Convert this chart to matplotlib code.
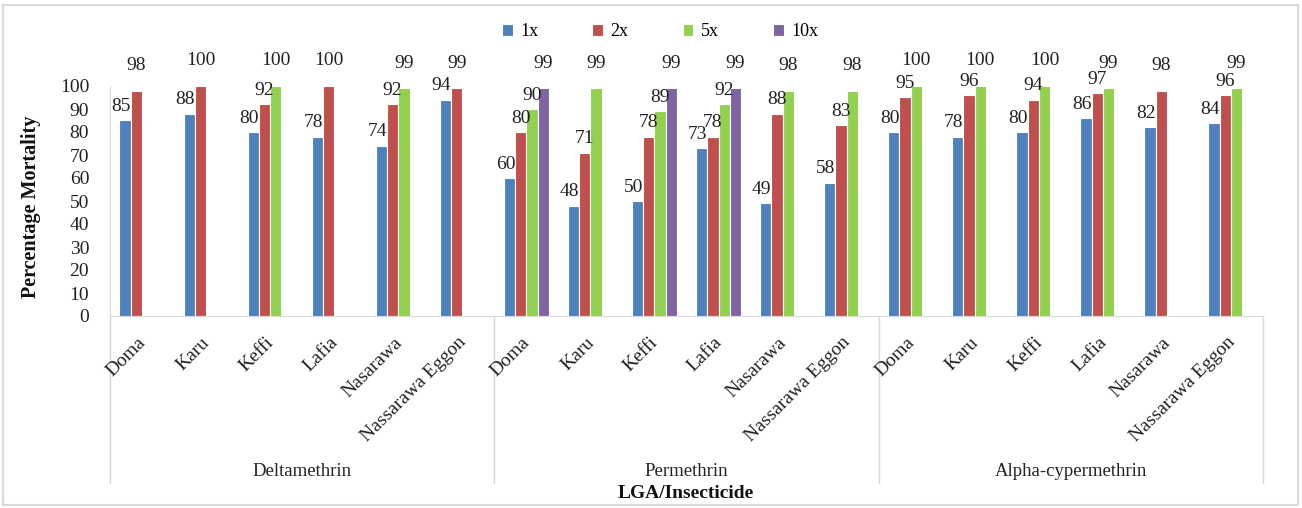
import matplotlib
matplotlib.use("Agg")
import matplotlib.pyplot as plt
from matplotlib.patches import Rectangle
from matplotlib.lines import Line2D
import numpy as np

plt.rcParams["font.family"] = ["Liberation Serif", "DejaVu Serif"]

nan = np.nan
insecticides = ["Deltamethrin", "Permethrin", "Alpha-cypermethrin"]
lgas = ["Doma", "Karu", "Keffi", "Lafia", "Nasarawa", "Nassarawa Eggon"]
series = ["1x", "2x", "5x", "10x"]
colors = ["#4F81BD", "#C0504D", "#92D050", "#8064A2"]

mort_1x = [85, 88, 80, 78, 74, 94, 60, 48, 50, 73, 49, 58, 80, 78, 80, 86, 82, 84]
mort_2x = [98, 100, 92, 100, 92, 99, 80, 71, 78, 78, 88, 83, 95, 96, 94, 97, 98, 96]
mort_5x = [nan, nan, 100, nan, 99, nan, 90, 99, 89, 92, 98, 98, 100, 100, 100, 99, nan, 99]
mort_10x = [nan, nan, nan, nan, nan, nan, 99, nan, 99, 99, nan, nan, nan, nan, nan, nan, nan, nan]
values = [mort_1x, mort_2x, mort_5x, mort_10x]

W, H = 1302, 508
fig = plt.figure(figsize=(W / 100, H / 100), dpi=100)
fig.patches.append(Rectangle((3 / W, 3 / H), 1295 / W, 500 / H, transform=fig.transFigure,
                             fill=False, edgecolor="#d9d9d9", linewidth=1.5))

x0, x1, ytop, ybot = 110, 1263, 86, 316
ax = fig.add_axes([x0 / W, 1 - ybot / H, (x1 - x0) / W, (ybot - ytop) / H])

n = len(mort_1x)
centers = np.arange(n) + 0.5
slot = 0.176
for k, (name, vals, c) in enumerate(zip(series, values, colors)):
    xs = centers + (k - 1.5) * slot
    v = np.array(vals, dtype=float)
    ax.bar(xs, v, width=slot, color=c, edgecolor="white", linewidth=0.8, label=name)
    # value labels: near-100 labels sit a little higher, 1x labels lean left
    dx = -0.06 if k == 0 else 0.0
    for xi, vi in zip(xs, v):
        if np.isnan(vi):
            continue
        off = 11 if vi >= 98 else 6
        ax.text(xi + dx, vi + off, f"{vi:.0f}", ha="center", va="center", fontsize=14,
                color="#222222", clip_on=False)

ax.set_xlim(0, n)
ax.set_ylim(0, 100)
ax.set_yticks(range(0, 101, 10))
ax.tick_params(axis="y", length=0, pad=15, labelsize=14, labelcolor="#222222")
ax.tick_params(axis="x", length=0)
ax.set_xticks([])
for s in ["top", "right"]:
    ax.spines[s].set_visible(False)
ax.spines["left"].set_color("#d9d9d9")
ax.spines["bottom"].set_color("#d9d9d9")

# category labels, rotated
to_fig = lambda px, py: (px / W, 1 - py / H)
for i, c in enumerate(centers):
    px = x0 + c * (x1 - x0) / n
    fx, fy = to_fig(px + 1, ybot + 24)
    fig.text(fx, fy, lgas[i % 6], rotation=45, ha="right", va="center",
             rotation_mode="anchor", fontsize=14, color="#222222")

# group separators and group names
for g in range(4):
    px = x0 + g * 6 * (x1 - x0) / n
    fig.add_artist(Line2D([px / W, px / W], [1 - ybot / H, 1 - 483 / H],
                          color="#d9d9d9", linewidth=1))
for g, name in enumerate(insecticides):
    px = x0 + (g * 6 + 3) * (x1 - x0) / n
    fx, fy = to_fig(px, 472)
    fig.text(fx, fy, name, ha="center", va="center", fontsize=13.5, color="#222222")

fig.text(*to_fig(686, 494), "LGA/Insecticide", ha="center", va="center",
         fontsize=14, fontweight="bold", color="#111111")
fig.text(*to_fig(31, 207), "Percentage Mortality", rotation=90, ha="center", va="center",
         fontsize=14.5, fontweight="bold", color="#111111")

fig.legend(loc="center", bbox_to_anchor=to_fig(660, 32), ncol=4, frameon=False,
           fontsize=13, handlelength=0.6, handleheight=0.6, handletextpad=0.4,
           columnspacing=3.0)

fig.savefig("out.png", dpi=100)
